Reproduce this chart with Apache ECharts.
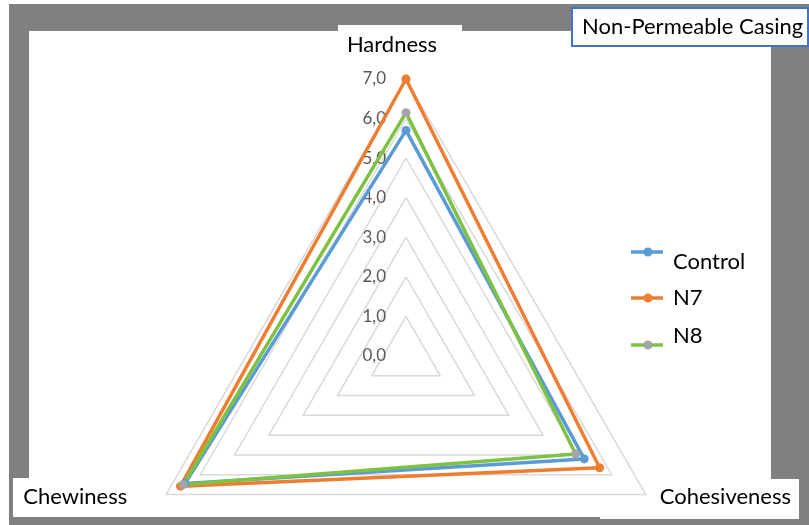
<!DOCTYPE html>
<html>
<head>
<meta charset="utf-8">
<script src="https://cdn.jsdelivr.net/npm/echarts@6/dist/echarts.min.js"></script>
<style>
  html, body { margin: 0; padding: 0; background: #ffffff; }
  #chart { width: 809px; height: 525px; }
</style>
</head>
<body>
<div id="chart"></div>
<script>
// Texture profile scores, non-permeable casing
const attributes = ['Hardness', 'Chewiness', 'Cohesiveness'];
const seriesNames = ['Control', 'N7', 'N8'];
const controlValues = [5.7, 6.45, 5.2];
const n7Values = [7.0, 6.58, 5.65];
const n8Values = [6.15, 6.5, 4.95];
const scaleMin = 0;
const scaleMax = 7;
const scaleStep = 1;
const title = 'Non-Permeable Casing';

const FONT = 'Lato, "Open Sans", sans-serif';
const lineColors = ['#5B9BD5', '#ED7D31', '#7DC242'];
const markerColors = ['#5B9BD5', '#ED7D31', '#A5A5A5'];
const values = [controlValues, n7Values, n8Values];

const chart = echarts.init(document.getElementById('chart'), null, { renderer: 'canvas' });

// frame: grey surround with white plot panel and label tabs
const frame = [
  { type: 'rect', shape: { x: 9, y: 4, width: 800, height: 521 }, style: { fill: '#808080' }, z: -10, silent: true },
  { type: 'rect', shape: { x: 29, y: 31, width: 742, height: 486 }, style: { fill: '#ffffff' }, z: -9, silent: true },
  { type: 'rect', shape: { x: 338, y: 25, width: 124, height: 10 }, style: { fill: '#ffffff' }, z: -9, silent: true },
  { type: 'rect', shape: { x: 13, y: 478, width: 200, height: 39 }, style: { fill: '#ffffff' }, z: -9, silent: true },
  { type: 'rect', shape: { x: 600, y: 479, width: 199, height: 40 }, style: { fill: '#ffffff' }, z: -9, silent: true },
  { type: 'rect', shape: { x: 572, y: 8, width: 236, height: 38 }, style: { fill: '#ffffff', stroke: '#4472C4', lineWidth: 2 }, z: -8, silent: true },
  { type: 'text', x: 582, y: 27, style: { text: title, font: '22px ' + FONT, fill: '#000000', verticalAlign: 'middle' }, z: 5 }
];

// legend entries: line with marker, then label
const legendLineY = [252, 298, 345];
const legendTextY = [262, 298, 336];
const legendItems = [];
seriesNames.forEach(function (name, i) {
  legendItems.push({ type: 'line', shape: { x1: 631, y1: legendLineY[i], x2: 663, y2: legendLineY[i] },
    style: { stroke: lineColors[i], lineWidth: 3.5 }, z: 5 });
  legendItems.push({ type: 'circle', shape: { cx: 648, cy: legendLineY[i], r: 4.5 },
    style: { fill: markerColors[i] }, z: 6 });
  legendItems.push({ type: 'text', x: 673, y: legendTextY[i],
    style: { text: name, font: '22px ' + FONT, fill: '#000000', verticalAlign: 'middle' }, z: 5 });
});

// per-axis name styles (offsets around each vertex)
const nameRich = {
  top: { fontSize: 22, fontFamily: FONT, color: '#000000', padding: [0, 28, 7, 0] },
  left: { fontSize: 22, fontFamily: FONT, color: '#000000', padding: [0, 25, 12, 0] },
  right: { fontSize: 22, fontFamily: FONT, color: '#000000', padding: [0, 0, 12, 0] }
};
const nameKey = { Hardness: 'top', Chewiness: 'left', Cohesiveness: 'right' };

const option = {
  animation: false,
  backgroundColor: '#ffffff',
  graphic: frame.concat(legendItems),
  radar: {
    center: [406, 356],
    radius: 277,
    startAngle: 90,
    shape: 'polygon',
    splitNumber: (scaleMax - scaleMin) / scaleStep,
    indicator: attributes.map(function (a, i) {
      const ind = { name: a, min: scaleMin, max: scaleMax };
      if (i === 0) ind.axisLabel = { show: true };
      return ind;
    }),
    axisLine: { show: false },
    axisTick: { show: false },
    splitArea: { show: false },
    splitLine: { lineStyle: { color: '#d9d9d9', width: 1.5 } },
    axisLabel: {
      show: false,
      color: '#595959',
      fontSize: 17,
      fontFamily: FONT,
      margin: 20,
      formatter: function (v) { return v.toFixed(1).replace('.', ','); }
    },
    axisName: {
      color: '#000000',
      fontSize: 22,
      fontFamily: FONT,
      formatter: function (name) { return '{' + nameKey[name] + '|' + name + '}'; },
      rich: nameRich
    },
    nameGap: 16
  },
  series: [{
    type: 'radar',
    symbol: 'circle',
    symbolSize: 9,
    data: seriesNames.map(function (name, i) {
      return {
        name: name,
        value: values[i],
        lineStyle: { color: lineColors[i], width: 3.5 },
        itemStyle: { color: markerColors[i] }
      };
    })
  }]
};

chart.setOption(option);
</script>
</body>
</html>
